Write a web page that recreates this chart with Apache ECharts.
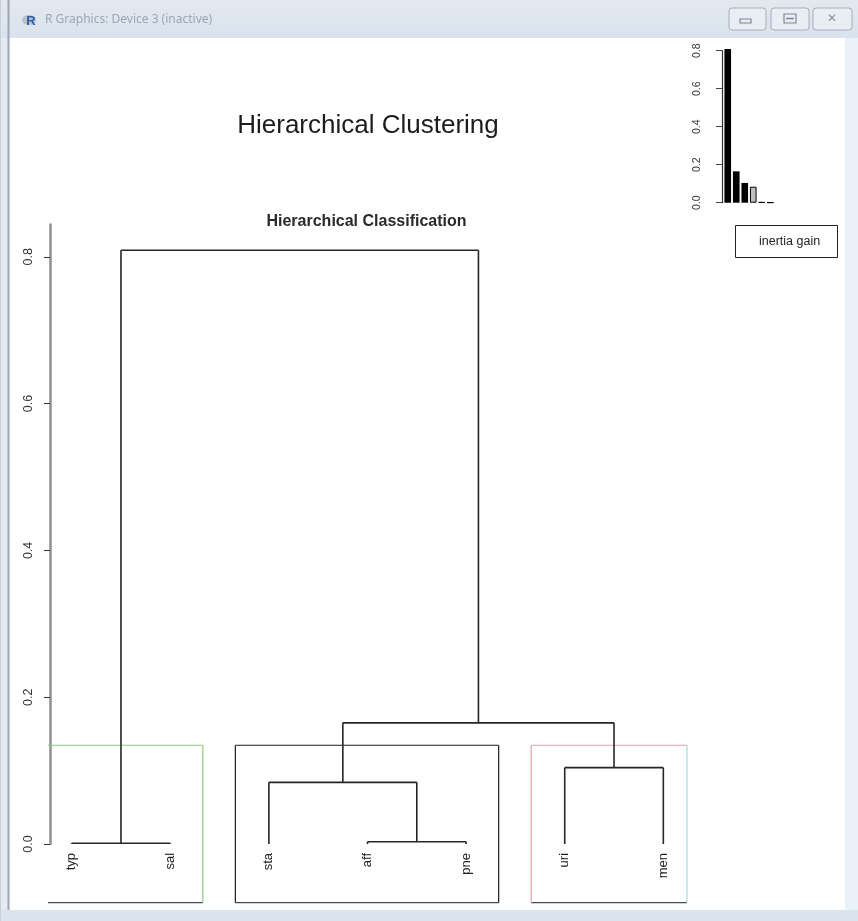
<!DOCTYPE html>
<html>
<head>
<meta charset="utf-8">
<title>Hierarchical Clustering</title>
<script src="https://cdn.jsdelivr.net/npm/echarts@6/dist/echarts.min.js"></script>
<style>
  html, body { margin: 0; padding: 0; background: #fff; }
  #chart { width: 858px; height: 921px; }
</style>
</head>
<body>
<div id="chart"></div>
<script>
// ---- data ----
const leafLabels = ['typ', 'sal', 'sta', 'aff', 'pne', 'uri', 'men'];
// merge steps in hclust convention: negative = leaf (1-based), positive = earlier step
const mergePairs = [[-1, -2], [-4, -5], [-3, 2], [-6, -7], [3, 4], [1, 5]];
// inertia gain of each merge, largest first
const inertiaGain = [0.809, 0.165, 0.104, 0.084, 0.003, 0.001];
const clusterMembers = [['typ', 'sal'], ['sta', 'aff', 'pne'], ['uri', 'men']];
const heightTicks = [0, 0.2, 0.4, 0.6, 0.8];
const gainLabel = 'inertia gain';

// ---- dendrogram geometry in data units ----
const nLeaf = leafLabels.length;
const mergeHeights = inertiaGain.slice().reverse();
const leafX = leafLabels.map((_, i) => i + 1);
const xPad = 0.04 * (nLeaf - 1);
const xMin = 1 - xPad, xMax = nLeaf + xPad;
const yMin = -0.08, yMax = 0.844;

const nodeX = [], nodeH = [];
function nodePos(ref) {
  return ref < 0 ? [leafX[-ref - 1], 0] : [nodeX[ref - 1], nodeH[ref - 1]];
}
const segments = [];
mergePairs.forEach((pair, i) => {
  const h = mergeHeights[i];
  const a = nodePos(pair[0]), b = nodePos(pair[1]);
  segments.push([a[0], a[1], a[0], h]);
  segments.push([b[0], b[1], b[0], h]);
  segments.push([a[0], h, b[0], h]);
  nodeX.push((a[0] + b[0]) / 2);
  nodeH.push(h);
});

// cluster boxes (rect.hclust style): cut between the k-1 and k highest merges
const k = clusterMembers.length;
const cutHeight = (inertiaGain[k - 2] + inertiaGain[k - 1]) / 2;
let before = 0;
const boxes = clusterMembers.map(members => {
  const box = [before + 0.66, before + members.length + 0.33, cutHeight];
  before += members.length;
  return box;
});
const boxColors = ['#8fc97e', '#1e1e1e', '#e2a2ac'];

const chart = echarts.init(document.getElementById('chart'), null, { renderer: 'canvas' });

const font = 'Liberation Sans, Arial, sans-serif';

function edge(x1, y1, x2, y2, stroke, w) {
  return { type: 'line', shape: { x1, y1, x2, y2 }, style: { stroke, lineWidth: w || 1.2 } };
}

const option = {
  backgroundColor: '#ffffff',
  animation: false,
  grid: [
    // height axis
    { left: 50, top: 224.5, width: 10, height: 619.5 },
    // dendrogram plotting region
    { left: 48, top: 224.5, width: 639, height: 678.2 },
    // inset barplot
    { left: 723.5, top: 50.7, width: 51, height: 152 }
  ],
  xAxis: [
    { gridIndex: 0, type: 'value', show: false, min: 0, max: 1 },
    { gridIndex: 1, type: 'value', show: false, min: xMin, max: xMax },
    { gridIndex: 2, type: 'category', show: false, data: inertiaGain.map((_, i) => String(i + 1)) }
  ],
  yAxis: [
    {
      gridIndex: 0, type: 'value', min: 0, max: yMax,
      axisLine: { show: true, lineStyle: { color: '#8f8f8f', width: 2.5 } },
      axisTick: { show: true, customValues: heightTicks, length: 6, lineStyle: { color: '#333', width: 1 } },
      axisLabel: {
        customValues: heightTicks, rotate: 90, margin: 15,
        formatter: v => v.toFixed(1),
        fontFamily: font, fontSize: 12.5, color: '#333'
      },
      splitLine: { show: false }
    },
    { gridIndex: 1, type: 'value', show: false, min: yMin, max: yMax },
    {
      gridIndex: 2, type: 'value', min: 0, max: 0.8, interval: 0.2, offset: 1.5,
      axisLine: { show: true, lineStyle: { color: '#333', width: 1.2 } },
      axisTick: { show: true, length: 6, lineStyle: { color: '#444', width: 1 } },
      axisLabel: {
        rotate: 90, margin: 19, formatter: v => v.toFixed(1),
        fontFamily: font, fontSize: 10.5, color: '#333'
      },
      splitLine: { show: false }
    }
  ],
  series: [
    {
      name: 'branches',
      type: 'custom', xAxisIndex: 1, yAxisIndex: 1,
      data: segments,
      encode: { x: [0, 2], y: [1, 3] },
      clip: false, silent: true, z: 3,
      renderItem(params, api) {
        const p1 = api.coord([api.value(0), api.value(1)]);
        const p2 = api.coord([api.value(2), api.value(3)]);
        return edge(p1[0], p1[1], p2[0], p2[1], '#262626', 1.6);
      }
    },
    {
      name: 'clusters',
      type: 'custom', xAxisIndex: 1, yAxisIndex: 1,
      data: boxes,
      encode: { x: [0, 1], y: 2 },
      clip: false, silent: true, z: 2,
      renderItem(params, api) {
        const l = api.value(0), r = api.value(1), t = api.value(2);
        const tl = api.coord([Math.max(l, xMin), t]);
        const br = api.coord([Math.min(r, xMax), yMin]);
        const col = boxColors[params.dataIndex];
        const children = [
          edge(tl[0], tl[1], br[0], tl[1], col),
          edge(tl[0], br[1], br[0], br[1], '#4a4a4a')
        ];
        if (l >= xMin) children.push(edge(tl[0], tl[1], tl[0], br[1], col));
        children.push(edge(br[0], tl[1], br[0], br[1], r > xMax ? '#a9d8e0' : col));
        return { type: 'group', children };
      }
    },
    {
      name: 'leaves',
      type: 'custom', xAxisIndex: 1, yAxisIndex: 1,
      data: leafX.map(x => [x, 0]),
      clip: false, silent: true, z: 3,
      renderItem(params, api) {
        const p = api.coord([api.value(0), api.value(1)]);
        return {
          type: 'text', x: p[0], y: p[1] + 9, rotation: Math.PI / 2,
          style: {
            text: leafLabels[params.dataIndex], align: 'right', verticalAlign: 'middle',
            font: '13px ' + font, fill: '#222'
          }
        };
      }
    },
    {
      name: gainLabel,
      type: 'bar', xAxisIndex: 2, yAxisIndex: 2,
      data: inertiaGain.map((v, i) => ({
        value: v,
        itemStyle: { color: i < 3 ? '#000' : '#bebebe', borderColor: '#000', borderWidth: i < 3 ? 0 : 1 }
      })),
      barCategoryGap: '22%', clip: false, silent: true
    }
  ],
  graphic: [
    // window frame
    {
      type: 'rect', shape: { x: 0, y: 0, width: 858, height: 38 }, silent: true,
      style: { fill: new echarts.graphic.LinearGradient(0, 0, 0, 1, [
        { offset: 0, color: '#e3e9f1' }, { offset: 1, color: '#d9e2ed' }]) }
    },
    { type: 'rect', shape: { x: 0, y: 38, width: 8, height: 872 }, silent: true, style: { fill: '#e4ebf3' } },
    { type: 'rect', shape: { x: 845, y: 38, width: 13, height: 872 }, silent: true, style: { fill: '#ebf1f8' } },
    { type: 'rect', shape: { x: 0, y: 910, width: 858, height: 11 }, silent: true, style: { fill: '#dae4ef' } },
    { type: 'line', shape: { x1: 8.5, y1: 0, x2: 8.5, y2: 910 }, silent: true, style: { stroke: '#9ea6b0', lineWidth: 2 } },
    { type: 'line', shape: { x1: 0.5, y1: 0, x2: 0.5, y2: 921 }, silent: true, style: { stroke: '#c7d0da', lineWidth: 1 } },
    // R icon and caption
    { type: 'ellipse', shape: { cx: 29, cy: 20, rx: 7, ry: 5 }, silent: true, style: { fill: '#b9c0c8' } },
    {
      type: 'text', x: 31, y: 21, silent: true,
      style: { text: 'R', font: 'bold 13px ' + font, fill: '#2d5fa6', align: 'center', verticalAlign: 'middle' }
    },
    {
      type: 'text', x: 45, y: 20, silent: true,
      style: { text: 'R Graphics: Device 3 (inactive)', font: '12px Noto Sans, sans-serif', fill: '#9ea6b1', verticalAlign: 'middle' }
    },
    // caption buttons
    { type: 'rect', shape: { x: 729, y: 8, width: 37, height: 22, r: 3 }, silent: true, style: { fill: '#e9eef4', stroke: '#a5aeb9', lineWidth: 1 } },
    { type: 'rect', shape: { x: 771, y: 8, width: 38, height: 22, r: 3 }, silent: true, style: { fill: '#e9eef4', stroke: '#a5aeb9', lineWidth: 1 } },
    { type: 'rect', shape: { x: 813, y: 8, width: 39, height: 22, r: 3 }, silent: true, style: { fill: '#e9eef4', stroke: '#a5aeb9', lineWidth: 1 } },
    { type: 'rect', shape: { x: 740, y: 19, width: 11, height: 4 }, silent: true, style: { fill: 'none', stroke: '#7d8794', lineWidth: 1.2 } },
    { type: 'rect', shape: { x: 784, y: 14, width: 12, height: 9 }, silent: true, style: { fill: 'none', stroke: '#7d8794', lineWidth: 1.2 } },
    { type: 'line', shape: { x1: 786, y1: 18.5, x2: 794, y2: 18.5 }, silent: true, style: { stroke: '#7d8794', lineWidth: 1.5 } },
    {
      type: 'text', x: 832, y: 19, silent: true,
      style: { text: '\u2715', font: 'bold 12px DejaVu Sans, sans-serif', fill: '#8a939e', align: 'center', verticalAlign: 'middle' }
    },
    // titles
    {
      type: 'text', x: 368, y: 126, silent: true,
      style: { text: 'Hierarchical Clustering', font: '26px ' + font, fill: '#1c1c1c', align: 'center', verticalAlign: 'middle' }
    },
    {
      type: 'text', x: 366.5, y: 221.5, silent: true,
      style: { text: 'Hierarchical Classification', font: 'bold 16px ' + font, fill: '#2a2a2a', align: 'center', verticalAlign: 'middle' }
    },
    // inset legend
    { type: 'rect', shape: { x: 735.5, y: 225.5, width: 102, height: 32 }, silent: true, style: { fill: '#fff', stroke: '#222', lineWidth: 1 } },
    {
      type: 'text', x: 759, y: 241.5, silent: true,
      style: { text: gainLabel, font: '12.5px ' + font, fill: '#222', verticalAlign: 'middle' }
    }
  ]
};

chart.setOption(option);
</script>
</body>
</html>
